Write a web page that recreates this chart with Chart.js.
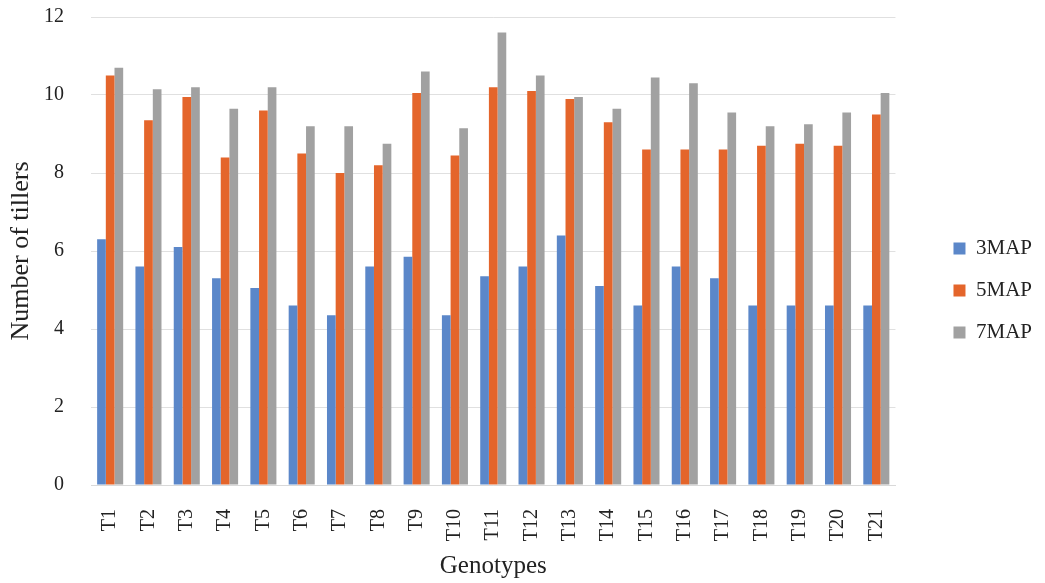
<!DOCTYPE html>
<html>
<head>
<meta charset="utf-8">
<script src="https://cdn.jsdelivr.net/npm/chart.js@4"></script>
<style>
  html, body { margin: 0; padding: 0; background: #ffffff; }
  #wrap { width: 1045px; height: 583px; }
</style>
</head>
<body>
<div id="wrap"><canvas id="c" width="1045" height="583"></canvas></div>
<script>
// Genotypes on the category axis
const genotypes = ['T1','T2','T3','T4','T5','T6','T7','T8','T9','T10','T11','T12','T13','T14','T15','T16','T17','T18','T19','T20','T21'];

// Number of tillers at 3, 5 and 7 months after planting
const tillers3MAP = [6.3, 5.6, 6.1, 5.3, 5.05, 4.6, 4.35, 5.6, 5.85, 4.35, 5.35, 5.6, 6.4, 5.1, 4.6, 5.6, 5.3, 4.6, 4.6, 4.6, 4.6];
const tillers5MAP = [10.5, 9.35, 9.95, 8.4, 9.6, 8.5, 8.0, 8.2, 10.05, 8.45, 10.2, 10.1, 9.9, 9.3, 8.6, 8.6, 8.6, 8.7, 8.75, 8.7, 9.5];
const tillers7MAP = [10.7, 10.15, 10.2, 9.65, 10.2, 9.2, 9.2, 8.75, 10.6, 9.15, 11.6, 10.5, 9.95, 9.65, 10.45, 10.3, 9.55, 9.2, 9.25, 9.55, 10.05];

const seriesNames = ['3MAP', '5MAP', '7MAP'];
const seriesColors = ['#5b87c9', '#e4652b', '#a1a1a1'];

const serif = "'Liberation Serif', 'DejaVu Serif', serif";

new Chart(document.getElementById('c'), {
  type: 'bar',
  data: {
    labels: genotypes,
    datasets: [tillers3MAP, tillers5MAP, tillers7MAP].map((vals, i) => ({
      label: seriesNames[i],
      data: vals,
      backgroundColor: seriesColors[i],
      borderWidth: 0,
      categoryPercentage: 0.68,
      barPercentage: 1.0,
      yAxisID: 'y'
    }))
  },
  options: {
    responsive: false,
    animation: false,
    layout: { padding: { left: 2, right: 3, top: 0, bottom: 2 } },
    plugins: {
      tooltip: { enabled: false },
      legend: {
        position: 'right',
        labels: {
          font: { family: serif, size: 21 },
          color: '#222',
          boxWidth: 12,
          boxHeight: 12,
          padding: 21
        }
      }
    },
    scales: {
      x: {
        grid: { display: false },
        border: { display: true, color: '#d9d9d9' },
        ticks: {
          font: { family: serif, size: 20 },
          color: '#222',
          minRotation: 90,
          maxRotation: 90,
          padding: 16
        },
        title: {
          display: true,
          text: 'Genotypes',
          font: { family: serif, size: 25 },
          color: '#222',
          padding: { top: 10, bottom: 0 }
        },
        afterFit(scale) {
          scale.height = 96;
          scale.paddingLeft = 0;
          scale.paddingRight = 0;
        }
      },
      y: {
        min: 0,
        max: 12,
        ticks: {
          stepSize: 2,
          font: { family: serif, size: 20 },
          color: '#222',
          padding: 27
        },
        grid: { color: '#e0e0e0', drawTicks: false },
        border: { display: false },
        title: {
          display: true,
          text: 'Number of tillers',
          font: { family: serif, size: 26 },
          color: '#222',
          padding: { top: 4, bottom: 8 }
        },
        afterFit(scale) {
          scale.width = 89;
          scale.paddingTop = 17;
          scale.paddingBottom = 0;
        }
      },
      // empty spacer between the plot and the legend
      gap: {
        type: 'linear',
        position: 'right',
        display: true,
        grid: { display: false },
        border: { display: false },
        ticks: { display: false },
        afterFit(scale) {
          scale.width = 37;
          scale.paddingTop = 0;
          scale.paddingBottom = 0;
        }
      }
    }
  }
});
</script>
</body>
</html>
